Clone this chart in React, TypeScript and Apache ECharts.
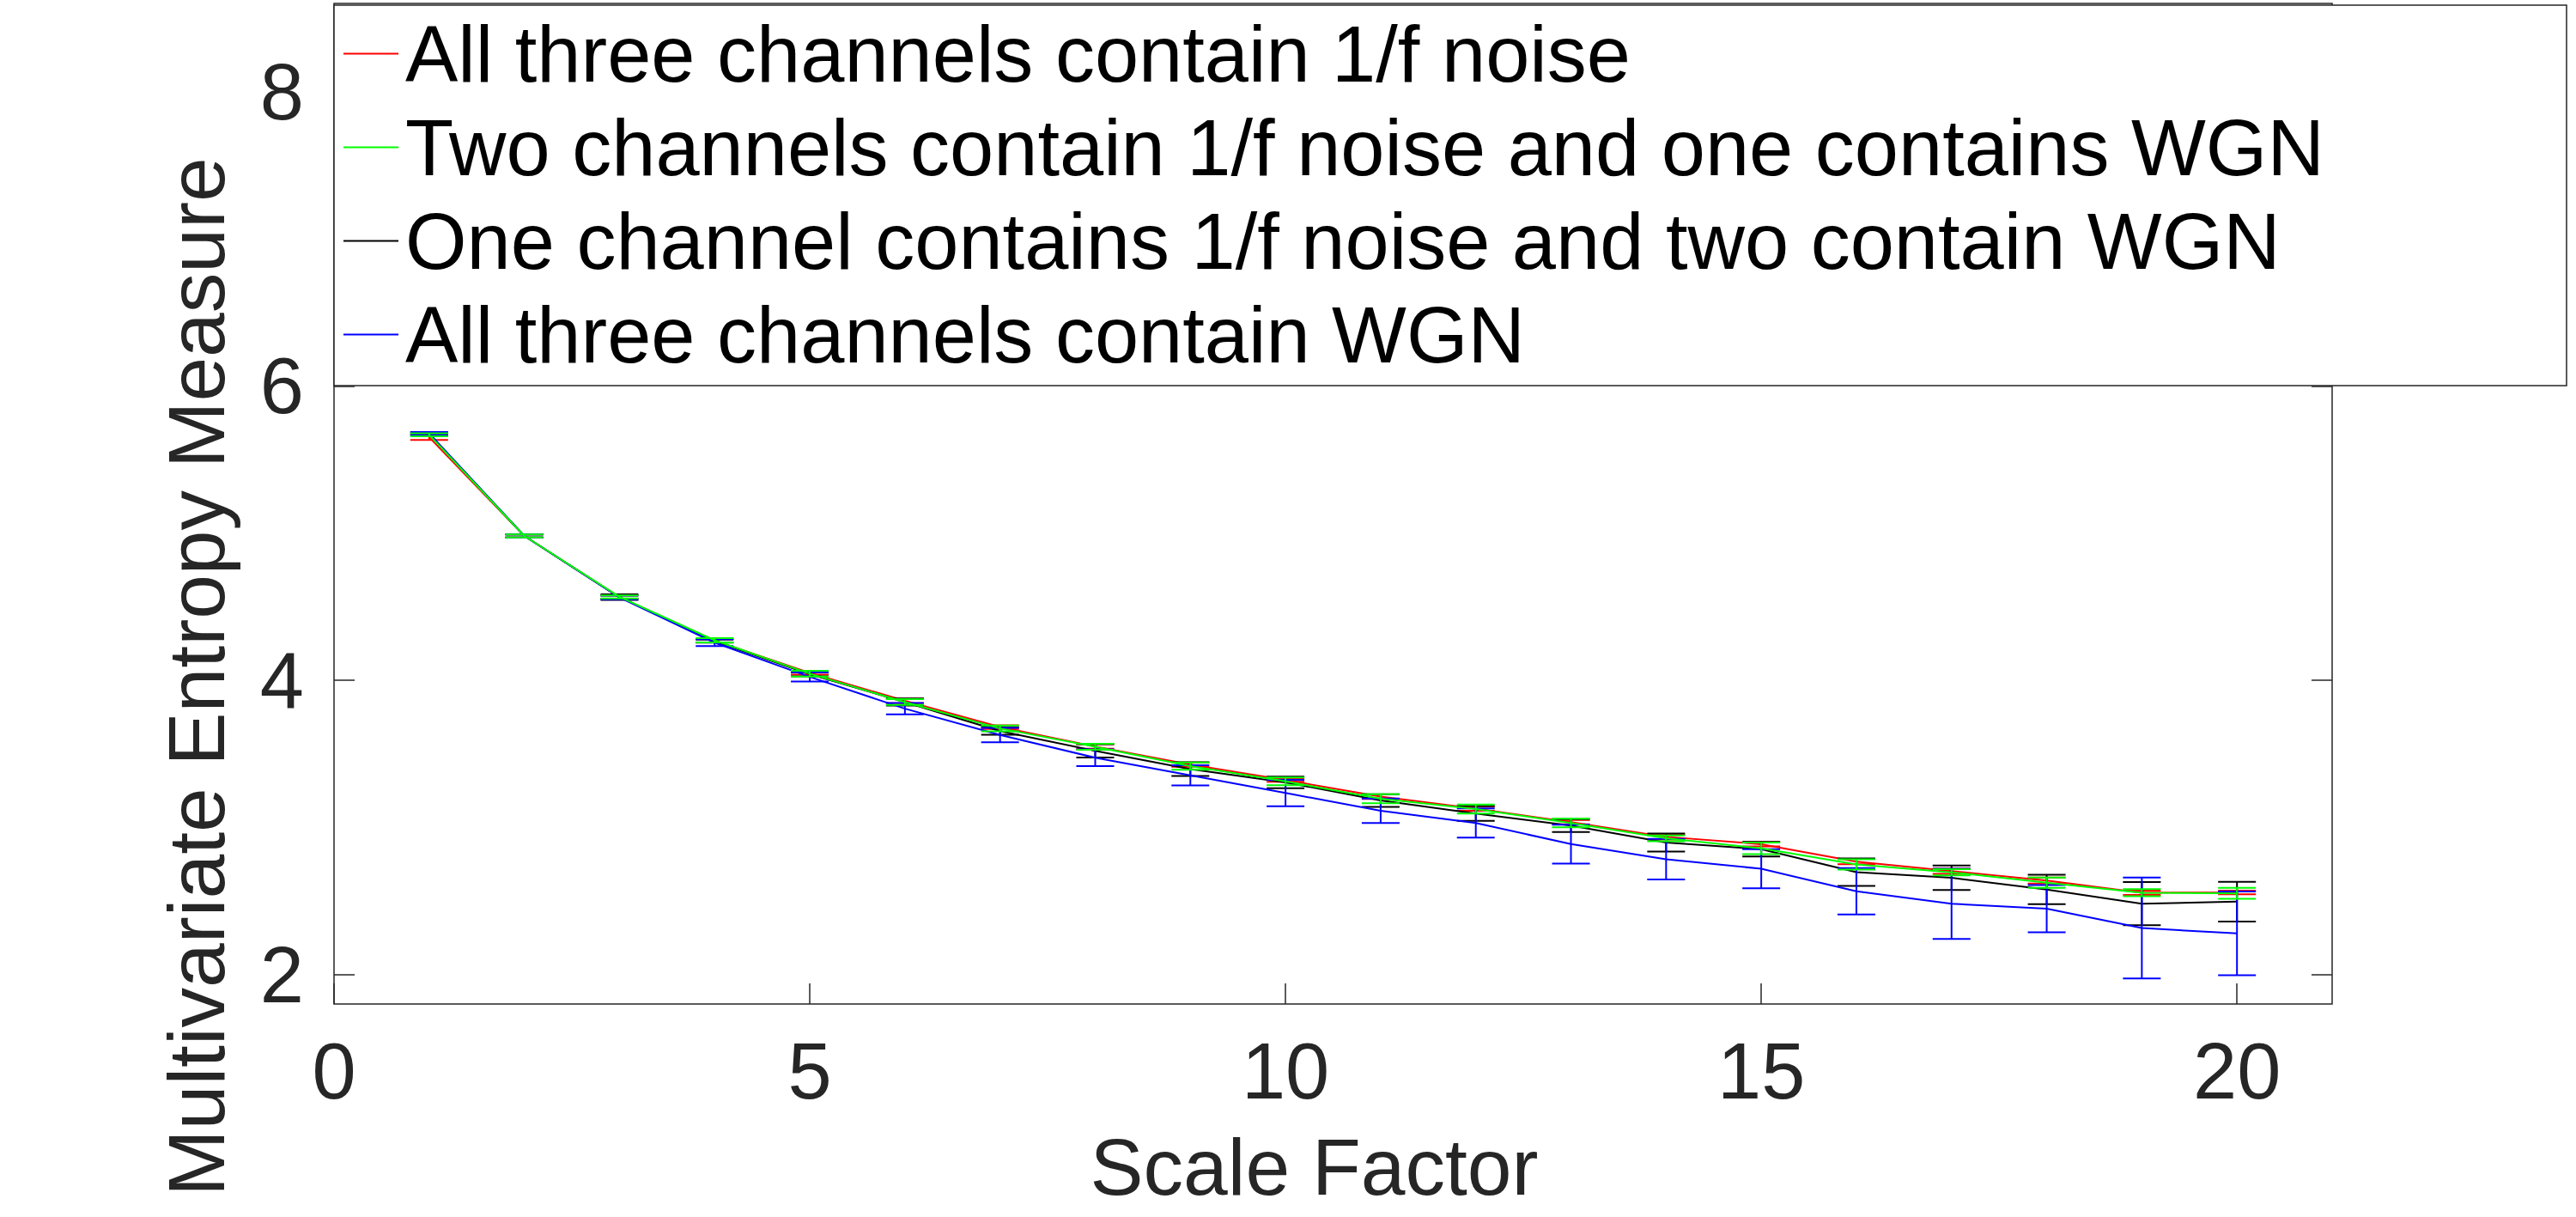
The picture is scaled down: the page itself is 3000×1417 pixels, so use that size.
import React, { useEffect, useRef } from "react";
import * as echarts from "echarts";

// Scale factors on the x axis
const scaleFactors = [1, 2, 3, 4, 5, 6, 7, 8, 9, 10, 11, 12, 13, 14, 15, 16, 17, 18, 19, 20];

// Mean multivariate entropy and error-bar half-lengths per configuration
const allOneOverF = [5.652, 4.981, 4.565, 4.269, 4.051, 3.860, 3.682, 3.550, 3.427, 3.322, 3.209, 3.128, 3.036, 2.936, 2.886, 2.768, 2.703, 2.639, 2.556, 2.558];
const allOneOverFErr = [0.018, 0.01, 0.01, 0.012, 0.012, 0.015, 0.012, 0.015, 0.015, 0.012, 0.015, 0.015, 0.015, 0.018, 0.015, 0.018, 0.018, 0.02, 0.015, 0.012];

const twoOneOverF = [5.668, 4.981, 4.567, 4.272, 4.045, 3.852, 3.673, 3.548, 3.417, 3.313, 3.195, 3.125, 3.030, 2.926, 2.858, 2.749, 2.695, 2.624, 2.556, 2.552];
const twoOneOverFErr = [0.01, 0.01, 0.01, 0.015, 0.02, 0.02, 0.02, 0.02, 0.025, 0.026, 0.031, 0.03, 0.029, 0.02, 0.04, 0.035, 0.021, 0.035, 0.024, 0.037];

const oneOneOverF = [5.675, 4.981, 4.565, 4.266, 4.041, 3.852, 3.655, 3.520, 3.396, 3.306, 3.183, 3.095, 3.013, 2.897, 2.852, 2.696, 2.658, 2.578, 2.482, 2.496];
const oneOneOverFErr = [0.01, 0.01, 0.019, 0.01, 0.014, 0.024, 0.025, 0.045, 0.047, 0.039, 0.043, 0.05, 0.044, 0.061, 0.049, 0.094, 0.083, 0.1, 0.147, 0.135];

const allWgn = [5.678, 4.981, 4.563, 4.256, 4.023, 3.807, 3.628, 3.474, 3.354, 3.234, 3.113, 3.030, 2.887, 2.784, 2.719, 2.566, 2.481, 2.448, 2.316, 2.280];
const allWgnErr = [0.01, 0.01, 0.012, 0.023, 0.031, 0.039, 0.049, 0.057, 0.069, 0.09, 0.083, 0.099, 0.132, 0.138, 0.133, 0.157, 0.239, 0.161, 0.343, 0.285];

const seriesNames = [
  "All three channels contain 1/f noise",
  "Two channels contain 1/f noise and one contains WGN",
  "One channel contains 1/f noise and two contain WGN",
  "All three channels contain WGN",
];

// Axis tick values
const xTicks = [0, 5, 10, 15, 20];
const yTicks = [2, 4, 6, 8];

const FONT = "Liberation Sans, Arial, Helvetica, sans-serif";
const AXIS_COLOR = "#262626";

type Group = { name: string; color: string; mean: number[]; err: number[] };

const groups: Group[] = [
  { name: seriesNames[0], color: "#ff0000", mean: allOneOverF, err: allOneOverFErr },
  { name: seriesNames[1], color: "#00ff00", mean: twoOneOverF, err: twoOneOverFErr },
  { name: seriesNames[2], color: "#000000", mean: oneOneOverF, err: oneOneOverFErr },
  { name: seriesNames[3], color: "#0000ff", mean: allWgn, err: allWgnErr },
];

// Stacking order: later entries are drawn on top
const drawOrder = [0, 2, 3, 1];

export default function App() {
  const ref = useRef<HTMLDivElement>(null);

  useEffect(() => {
    if (!ref.current) return;
    const chart = echarts.init(ref.current, null, { renderer: "svg" });

    const series: any[] = [];
    drawOrder.forEach((gi, k) => {
      const g = groups[gi];
      series.push({
        type: "line",
        name: g.name,
        data: scaleFactors.map((x, i) => [x, g.mean[i]]),
        symbol: "none",
        lineStyle: { color: g.color, width: 2 },
        itemStyle: { color: g.color },
        z: 10 + k,
      });
      series.push({
        type: "custom",
        name: g.name,
        data: scaleFactors.map((x, i) => [x, g.mean[i], g.err[i]]),
        encode: { x: 0, y: 1 },
        itemStyle: { color: g.color },
        z: 10 + k,
        renderItem: (params: any, api: any) => {
          const x = api.value(0);
          const m = api.value(1);
          const e = api.value(2);
          const hi = api.coord([x, m + e]);
          const lo = api.coord([x, m - e]);
          const capHalf = 22;
          const style = { stroke: g.color, lineWidth: 2, fill: null };
          return {
            type: "group",
            children: [
              { type: "line", shape: { x1: hi[0], y1: hi[1], x2: lo[0], y2: lo[1] }, style },
              { type: "line", shape: { x1: hi[0] - capHalf, y1: hi[1], x2: hi[0] + capHalf, y2: hi[1] }, style },
              { type: "line", shape: { x1: lo[0] - capHalf, y1: lo[1], x2: lo[0] + capHalf, y2: lo[1] }, style },
            ],
          };
        },
      });
    });

    const tickStyle = { color: AXIS_COLOR, width: 1.5 };

    chart.setOption({
      animation: false,
      backgroundColor: "#ffffff",
      grid: {
        left: 389,
        right: 284,
        top: 4,
        bottom: 248,
        show: true,
        borderColor: AXIS_COLOR,
        borderWidth: 1.5,
        backgroundColor: "transparent",
      },
      legend: {
        show: true,
        orient: "vertical",
        left: 400,
        top: 8,
        padding: 0,
        itemGap: 0,
        itemWidth: 64,
        itemHeight: 2,
        icon: "rect",
        selectedMode: false,
        z: 200,
        data: groups.map((g) => ({ name: g.name, itemStyle: { color: g.color } })),
        textStyle: {
          fontFamily: FONT,
          fontSize: 92,
          color: "#000000",
          lineHeight: 109,
          padding: [0, 0, 0, 3],
        },
      },
      graphic: [
        {
          type: "rect",
          z: 100,
          shape: { x: 389, y: 6, width: 2600, height: 443 },
          style: { fill: "#ffffff", stroke: AXIS_COLOR, lineWidth: 1.5 },
        },
        {
          type: "text",
          z: 100,
          x: 229,
          y: 788,
          rotation: Math.PI / 2,
          style: {
            text: "Multivariate Entropy Measure",
            font: `93px ${FONT}`,
            fill: AXIS_COLOR,
            align: "center",
            verticalAlign: "middle",
          },
        },
      ],
      xAxis: {
        type: "value",
        min: 0,
        max: 21,
        name: "Scale Factor",
        nameLocation: "middle",
        nameGap: 143,
        nameTextStyle: { fontFamily: FONT, fontSize: 93, color: AXIS_COLOR, padding: [0, 44, 0, 0] },
        axisLine: { show: false },
        splitLine: { show: false },
        axisTick: { show: true, inside: true, length: 24, lineStyle: tickStyle, customValues: xTicks },
        axisLabel: {
          show: true,
          margin: 32,
          fontFamily: FONT,
          fontSize: 92,
          color: AXIS_COLOR,
          customValues: xTicks,
        },
      },
      yAxis: [
        {
          type: "value",
          min: 1.8,
          max: 8.6,
          position: "left",
          axisLine: { show: false },
          splitLine: { show: false },
          axisTick: { show: true, inside: true, length: 24, lineStyle: tickStyle, customValues: yTicks },
          axisLabel: {
            show: true,
            margin: 35,
            fontFamily: FONT,
            fontSize: 92,
            color: AXIS_COLOR,
            customValues: yTicks,
          },
        },
        {
          type: "value",
          min: 1.8,
          max: 8.6,
          position: "right",
          axisLine: { show: false },
          splitLine: { show: false },
          axisTick: { show: true, inside: true, length: 24, lineStyle: tickStyle, customValues: yTicks },
          axisLabel: { show: false },
        },
      ],
      series,
    });

    return () => chart.dispose();
  }, []);

  return (
    <div
      ref={ref}
      style={{ position: "fixed", left: 0, top: 0, width: 3000, height: 1417, background: "#fff" }}
    />
  );
}
